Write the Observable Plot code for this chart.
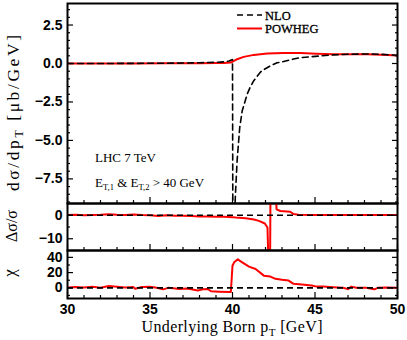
<!DOCTYPE html>
<html><head><meta charset="utf-8">
<script src="https://cdn.jsdelivr.net/npm/d3@7"></script>
<script src="https://cdn.jsdelivr.net/npm/@observablehq/plot@0.6"></script>
<style>
body{margin:0;background:#fff}
#chart{position:relative;width:407px;height:340px;overflow:hidden;background:#fff}
#chart svg{position:absolute;left:0}
</style></head><body><div id="chart"></div>
<script>
// ---- data ----
const nloPt  = [30, 32, 34, 36, 37, 38, 39, 39.5, 39.8, 40.0, 40.02, 40.12, 40.18, 40.28, 40.44, 40.59, 40.89, 41.09, 41.29, 41.7, 41.9, 42.3, 42.7, 42.9, 43.5, 44.1, 45.2, 46.1, 47.0, 48.2, 49.0, 50];
const nloVal = [0.0, 0.0, 0.01, 0.02, 0.03, 0.05, 0.08, 0.11, 0.16, 0.26, -10, -10, -8.47, -6.3, -4.14, -3.07, -1.99, -1.5, -1.12, -0.55, -0.4, -0.15, 0.05, 0.08, 0.24, 0.38, 0.48, 0.56, 0.6, 0.62, 0.6, 0.53];
const powPt  = [30, 32, 34, 36, 38, 39, 39.5, 39.9, 40.28, 40.68, 41.29, 42.1, 43.1, 44.1, 45.1, 46.1, 47.1, 48.2, 49.4, 50];
const powVal = [0.0, 0.0, 0.0, 0.01, 0.02, 0.03, 0.04, 0.06, 0.28, 0.43, 0.56, 0.65, 0.68, 0.68, 0.64, 0.6, 0.6, 0.6, 0.55, 0.52];
const ratPt  = [30, 30.5, 31, 31.5, 32, 32.5, 33, 33.5, 34, 34.5, 35, 35.5, 36, 36.5, 37, 37.5, 38, 38.5, 39, 39.5, 40, 40.2, 40.8, 41.3, 41.6, 41.96, 42.12, 42.17, 42.28, 42.3, 42.32, 42.64, 42.67, 42.9, 43.5, 43.7, 44, 45, 46, 47, 48, 49, 50];
const ratVal = [0.1, 0.2, 0.0, 0.1, 0.2, 0.4, 0.2, 0.1, 0.3, 0.1, 0.0, -0.3, 0.0, -0.2, -0.2, -0.3, -0.5, -0.5, -0.6, -0.6, -0.8, -1.0, -1.25, -1.8, -2.4, -3.5, -5.2, -18, -18, 8, 8, 8, 2.5, 1.8, 1.5, 0.5, 0.2, 0.1, 0.1, 0.1, 0.1, 0.1, 0.1];
const chiPt  = [30, 30.5, 31, 31.5, 32, 32.5, 33, 33.5, 34, 34.1, 34.5, 35, 35.4, 35.8, 36.1, 36.4, 36.8, 37.2, 37.5, 37.9, 38.2, 38.5, 38.7, 39.2, 39.9, 40.0, 40.1, 40.32, 40.59, 41.0, 41.4, 41.9, 42.3, 42.6, 43.0, 43.4, 43.7, 44.2, 44.8, 45.1, 45.5, 46.1, 46.7, 47.0, 47.2, 47.5, 48.1, 48.6, 48.8, 49.3, 50];
const chiVal = [0.5, 1, 0.5, 1.5, 0, 2.5, 1.5, 0.5, 1, -1.3, 1, 1.5, 0, -2, 0, -0.5, -1.5, -1, -2, -3.5, -2, -1.5, -4.5, -5, -5.5, 29, 33.5, 37.4, 33.5, 27.8, 24.8, 16, 14.8, 11.8, 10.5, 9.5, 5.2, 4.4, 3, 1.6, 1.6, 0.9, 0, -1.7, 1.6, 0, 0, -2, 0, 0.5, 0];

const xMajor = [30, 35, 40, 45, 50];
const xMinor = [31, 32, 33, 34, 36, 37, 38, 39, 41, 42, 43, 44, 46, 47, 48, 49];
const topMajor = [-7.5, -5, -2.5, 0, 2.5];
const topMinor = [-9, -8.5, -8, -7, -6.5, -6, -5.5, -4.5, -4, -3.5, -3, -2, -1.5, -1, -0.5, 0.5, 1, 1.5, 2, 3, 3.5];
const midMajor = [-10, 0];
const midMinor = [-5];
const botMajor = [0, 20, 40];
const botMinor = [-10, 10, 30];

const legendLabels = ["NLO", "POWHEG"];
const noteLines = ["LHC 7 TeV", "E_T,1 & E_T,2 > 40 GeV"];

// ---- layout ----
const W = 407, ML = 67, MR = 10;
const RED = "#ff0000", DASH = "6,4";
const zip = (xs, ys) => xs.map((x, i) => ({x, y: ys[i]}));

function panel({height, marginTop, marginBottom, yDomain, yMajor, yMinor, yFormat, marks, xLabels}) {
  return Plot.plot({
    width: W, height, marginLeft: ML, marginRight: MR, marginTop, marginBottom,
    x: {domain: [30, 50]},
    y: {domain: yDomain},
    style: {fontFamily: "Liberation Sans, Arial, sans-serif", fontSize: "14px", fontWeight: "bold", color: "#000", background: "transparent", overflow: "visible"},
    marks: [
      ...marks,
      Plot.axisY(yMajor, {anchor: "left", tickSize: 6, dx: 6, fill: "none", label: null, strokeWidth: 1.2}),
      Plot.axisY(yMinor, {anchor: "left", tickSize: 3, dx: 3, fill: "none", label: null, strokeWidth: 1.2}),
      Plot.axisY(yMajor, {anchor: "right", tickSize: 6, dx: -6, fill: "none", label: null, strokeWidth: 1.2}),
      Plot.axisY(yMinor, {anchor: "right", tickSize: 3, dx: -3, fill: "none", label: null, strokeWidth: 1.2}),
      Plot.axisY(yMajor, {anchor: "left", tickSize: 0, tickPadding: 5, tickFormat: yFormat, label: null}),
      Plot.axisX(xMajor, {anchor: "bottom", tickSize: 6, dy: -6, fill: "none", label: null, strokeWidth: 1.2}),
      Plot.axisX(xMinor, {anchor: "bottom", tickSize: 3, dy: -3, fill: "none", label: null, strokeWidth: 1.2}),
      xLabels ? Plot.axisX(xMajor, {anchor: "bottom", tickSize: 0, tickPadding: 6, tickFormat: d3.format("d"), label: null}) : null,
      Plot.frame({stroke: "#000", strokeWidth: 2})
    ]
  });
}

const topPlot = panel({
  height: 203, marginTop: 3, marginBottom: 0, yDomain: [-9.1, 3.9],
  yMajor: topMajor, yMinor: topMinor, yFormat: d3.format(".1f"),
  marks: [
    Plot.line(zip(powPt, powVal), {x: "x", y: "y", stroke: RED, strokeWidth: 2, clip: true}),
    Plot.line(zip(nloPt, nloVal), {x: "x", y: "y", stroke: "#000", strokeWidth: 1.6, strokeDasharray: DASH, clip: true})
  ]
});
const midPlot = panel({
  height: 47, marginTop: 0, marginBottom: 0, yDomain: [-15, 5],
  yMajor: midMajor, yMinor: midMinor, yFormat: d3.format("d"),
  marks: [
    Plot.line(zip(ratPt, ratVal), {x: "x", y: "y", stroke: RED, strokeWidth: 2, clip: true}),
    Plot.ruleY([0], {stroke: "#000", strokeWidth: 1.6, strokeDasharray: DASH})
  ]
});
const botPlot = panel({
  height: 90, marginTop: 0, marginBottom: 42, yDomain: [-14, 49],
  yMajor: botMajor, yMinor: botMinor, yFormat: d3.format("d"), xLabels: true,
  marks: [
    Plot.line(zip(chiPt, chiVal), {x: "x", y: "y", stroke: RED, strokeWidth: 2, clip: true}),
    Plot.ruleY([0], {stroke: "#000", strokeWidth: 1.6, strokeDasharray: DASH})
  ]
});

const chart = document.getElementById("chart");
[[topPlot, 0], [midPlot, 203], [botPlot, 250]].forEach(([p, t]) => {
  p.style.position = "absolute"; p.style.top = t + "px"; p.style.left = "0px";
  chart.appendChild(p);
});

// ---- overlay: labels, legend, annotations ----
const ov = d3.select(chart).append("svg")
  .attr("width", 407).attr("height", 340)
  .style("position", "absolute").style("top", "0px").style("left", "0px")
  .attr("font-family", "Liberation Serif, Times New Roman, serif").attr("fill", "#000");

function rich(sel, parts, subSize) {
  let sub = false;
  parts.forEach(p => {
    const ts = sel.append("tspan").text(p.t);
    if (p.sub && !sub) { ts.attr("dy", subSize * 0.35).attr("font-size", subSize); sub = true; }
    else if (p.sub) { ts.attr("font-size", subSize); }
    else if (!p.sub && sub) { ts.attr("dy", -subSize * 0.35); sub = false; }
  });
  return sel;
}
function parse(s) {
  const parts = [];
  s.split(/(_[^ ]+)/).forEach(tok => {
    if (!tok) return;
    if (tok[0] === "_") parts.push({t: tok.slice(1), sub: true});
    else parts.push({t: tok});
  });
  return parts;
}

// y labels
rich(ov.append("text").attr("transform", "translate(18.5,113) rotate(-90)")
  .attr("text-anchor", "middle").attr("font-size", 17.5).attr("textLength", 156).attr("lengthAdjust", "spacing"),
  [{t: "dσ/dp"}, {t: "T", sub: true}, {t: " [μb/GeV]"}], 12);
ov.append("text").attr("transform", "translate(17,226) rotate(-90)")
  .attr("text-anchor", "middle").attr("font-size", 16).text("Δσ/σ");
ov.append("text").attr("transform", "translate(15,273) rotate(-90)")
  .attr("text-anchor", "middle").attr("font-size", 17).text("χ");
// x label
rich(ov.append("text").attr("x", 232).attr("y", 332).attr("text-anchor", "middle")
  .attr("font-size", 16).attr("textLength", 181).attr("lengthAdjust", "spacing"),
  [{t: "Underlying Born p"}, {t: "T", sub: true}, {t: " [GeV]"}], 11);

// legend
const lg = ov.append("g");
lg.append("line").attr("x1", 237).attr("x2", 262).attr("y1", 15).attr("y2", 15)
  .attr("stroke", "#000").attr("stroke-width", 1.6).attr("stroke-dasharray", DASH);
lg.append("line").attr("x1", 237).attr("x2", 262).attr("y1", 28.5).attr("y2", 28.5)
  .attr("stroke", RED).attr("stroke-width", 2);
legendLabels.forEach((t, i) => lg.append("text").attr("x", 265).attr("y", 19.5 + i * 13.5)
  .attr("font-size", 12.5).attr("stroke", "#000").attr("stroke-width", 0.3).text(t));

// annotations
noteLines.forEach((s, i) => rich(ov.append("text").attr("x", 95).attr("y", 162 + i * 25)
  .attr("font-size", 13), parse(s), 8.5));
</script></body></html>
